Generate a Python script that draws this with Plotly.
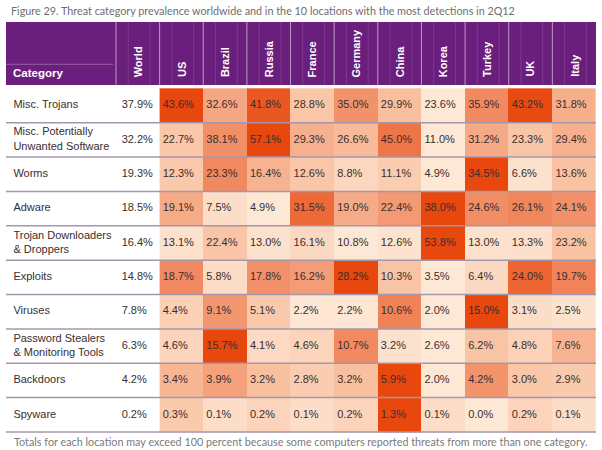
import plotly.graph_objects as go

# ---------------- data ----------------
categories = [
    "Misc. Trojans",
    "Misc. Potentially<br>Unwanted Software",
    "Worms",
    "Adware",
    "Trojan Downloaders<br>& Droppers",
    "Exploits",
    "Viruses",
    "Password Stealers<br>& Monitoring Tools",
    "Backdoors",
    "Spyware",
]
world = [37.9, 32.2, 19.3, 18.5, 16.4, 14.8, 7.8, 6.3, 4.2, 0.2]
locations = ["US", "Brazil", "Russia", "France", "Germany", "China", "Korea", "Turkey", "UK", "Italy"]
us = [43.6, 22.7, 12.3, 19.1, 13.1, 18.7, 4.4, 4.6, 3.4, 0.3]
brazil = [32.6, 38.1, 23.3, 7.5, 22.4, 5.8, 9.1, 15.7, 3.9, 0.1]
russia = [41.8, 57.1, 16.4, 4.9, 13.0, 17.8, 5.1, 4.1, 3.2, 0.2]
france = [28.8, 29.3, 12.6, 31.5, 16.1, 16.2, 2.2, 4.6, 2.8, 0.1]
germany = [35.0, 26.6, 8.8, 19.0, 10.8, 28.2, 2.2, 10.7, 3.2, 0.2]
china = [29.9, 45.0, 11.1, 22.4, 12.6, 10.3, 10.6, 3.2, 5.9, 1.3]
korea = [23.6, 11.0, 4.9, 38.0, 53.8, 3.5, 2.0, 2.6, 2.0, 0.1]
turkey = [35.9, 31.2, 34.5, 24.6, 13.0, 6.4, 15.0, 6.2, 4.2, 0.0]
uk = [43.2, 23.3, 6.6, 26.1, 13.3, 24.0, 3.1, 4.8, 3.0, 0.2]
italy = [31.8, 29.4, 13.6, 24.1, 23.2, 19.7, 2.5, 7.6, 2.9, 0.1]

title_text = "Figure 29. Threat category prevalence worldwide and in the 10 locations with the most detections in 2Q12"
note_text = ("Totals for each location may exceed 100 percent because some computers "
             "reported threats from more than one category.")

# ---------------- derived ----------------
cols = [us, brazil, russia, france, germany, china, korea, turkey, uk, italy]
nrow = len(categories)
ncol = len(locations)
rows = [[c[i] for c in cols] for i in range(nrow)]
# colour shading is normalised within each row (min -> lightest, max -> darkest)
z = []
for r in rows:
    lo, hi = min(r), max(r)
    z.append([(v - lo) / (hi - lo) if hi > lo else 0 for v in r])

# ---------------- style / layout ----------------
CAT_W = 2.52          # width of category column in column units
HEAD_TOP = -1.93
HEAD_BOT = -0.1
PURPLE = "#6B1F7D"
LINE = "#A497AC"
TXT = "#3A2E2E"
TFONT = "'Liberation Sans', Arial, sans-serif"
PLAIN = "Lato, 'Liberation Sans', sans-serif"

fig = go.Figure()

fig.add_trace(go.Heatmap(
    z=z, x0=1.5, dx=1, y0=0.5, dy=1,
    zmin=0, zmax=1, showscale=False, hoverinfo="skip",
    colorscale=[[0, "#FDE8D6"], [0.3, "#F9C1A1"], [0.6, "#F18D65"], [1, "#E8470D"]],
))

ys = [i + 0.5 for i in range(nrow)]
pad = 0.07
# category labels
fig.add_trace(go.Scatter(
    x=[-CAT_W + 0.17] * nrow, y=ys, mode="text", text=categories,
    textposition="middle right", hoverinfo="skip", showlegend=False,
    textfont=dict(family=TFONT, size=11, color=TXT),
))
# world values
fig.add_trace(go.Scatter(
    x=[pad + 0.06] * nrow, y=ys, mode="text", text=[f"{v:.1f}%" for v in world],
    textposition="middle right", hoverinfo="skip", showlegend=False,
    textfont=dict(family=TFONT, size=11, color=TXT),
))
# location values
for j, c in enumerate(cols):
    fig.add_trace(go.Scatter(
        x=[j + 1 + pad] * nrow, y=ys, mode="text", text=[f"{v:.1f}%" for v in c],
        textposition="middle right", hoverinfo="skip", showlegend=False,
        textfont=dict(family=TFONT, size=11, color=TXT),
    ))

shapes = []
# header band
shapes.append(dict(type="rect", xref="x", yref="y", x0=-CAT_W, x1=ncol + 1,
                   y0=HEAD_TOP, y1=HEAD_BOT, fillcolor=PURPLE, line=dict(width=0), layer="below"))
# header column separators
for k in range(ncol + 1):
    shapes.append(dict(type="line", xref="x", yref="y", x0=k, x1=k, y0=HEAD_TOP, y1=HEAD_BOT,
                       line=dict(color="rgba(255,255,255,0.55)", width=1)))
    for f in (0.28, 0.78):
        shapes.append(dict(type="line", xref="x", yref="y", x0=k + f, x1=k + f,
                           y0=HEAD_TOP, y1=HEAD_BOT,
                           line=dict(color="rgba(255,255,255,0.12)", width=1)))
shapes.append(dict(type="line", xref="x", yref="y", x0=-CAT_W, x1=-0.06, y0=-0.7, y1=-0.7,
                   line=dict(color="rgba(255,255,255,0.3)", width=1)))
# row separators
for i in range(1, nrow + 1):
    shapes.append(dict(type="line", xref="x", yref="y", x0=-CAT_W, x1=ncol + 1, y0=i, y1=i,
                       line=dict(color=LINE, width=1.5)))

annotations = []
annotations.append(dict(xref="x", yref="y", x=-CAT_W + 0.12, y=-0.44, text="<b>Category</b>",
                        showarrow=False, xanchor="left", yanchor="middle",
                        font=dict(family=TFONT, size=11.5, color="white")))
for k, name in enumerate(["World"] + locations):
    annotations.append(dict(xref="x", yref="y", x=k + 0.5, y=-0.27, text=f"<b>{name}</b>",
                            showarrow=False, textangle=-90, xanchor="center", yanchor="bottom",
                            font=dict(family=TFONT, size=11, color="white")))
annotations.append(dict(xref="paper", yref="paper", x=0, y=1.029, text=title_text,
                        showarrow=False, xanchor="left", yanchor="middle", xshift=3,
                        font=dict(family=PLAIN, size=10.8, color="#6E6E6E")))
annotations.append(dict(xref="paper", yref="paper", x=0, y=-0.021, text=note_text,
                        showarrow=False, xanchor="left", yanchor="middle", xshift=6,
                        font=dict(family=PLAIN, size=10.8, color="#7A7A7A")))

fig.update_layout(
    width=602, height=450,
    margin=dict(l=6, r=6, t=22, b=17),
    paper_bgcolor="white", plot_bgcolor="white",
    xaxis=dict(range=[-CAT_W, ncol + 1], visible=False, fixedrange=True),
    yaxis=dict(range=[nrow + 0.03, HEAD_TOP], visible=False, fixedrange=True),
    shapes=shapes, annotations=annotations, showlegend=False,
)

fig.write_html("out.html", config={"displayModeBar": False},
               post_script="document.body.style.margin='0px';")
